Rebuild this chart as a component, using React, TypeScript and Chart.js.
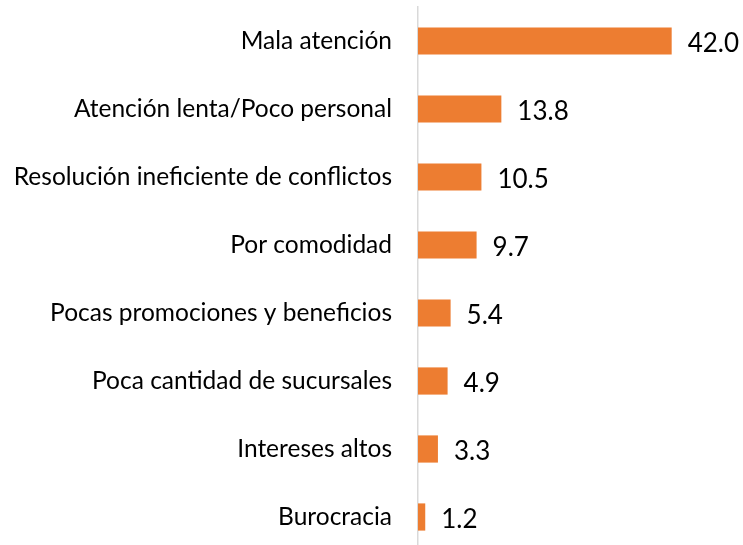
import React, { useEffect, useRef } from "react";
import { Chart, registerables } from "chart.js";

Chart.register(...registerables);

const categories = [
  "Mala atención",
  "Atención lenta/Poco personal",
  "Resolución ineficiente de conflictos",
  "Por comodidad",
  "Pocas promociones y beneficios",
  "Poca cantidad de sucursales",
  "Intereses altos",
  "Burocracia",
];
const values = [42.0, 13.8, 10.5, 9.7, 5.4, 4.9, 3.3, 1.2];
const barColor = "#ED7D31";
const fontFamily = "Lato, 'Liberation Sans', sans-serif";

const valueLabels = {
  id: "valueLabels",
  afterDatasetsDraw(chart: any) {
    const ctx = chart.ctx;
    const meta = chart.getDatasetMeta(0);
    ctx.save();
    ctx.font = `26px ${fontFamily}`;
    ctx.fillStyle = "#000000";
    ctx.textAlign = "left";
    ctx.textBaseline = "middle";
    meta.data.forEach((bar: any, i: number) => {
      ctx.fillText(values[i].toFixed(1), bar.x + 16, bar.y + 3);
    });
    ctx.restore();
  },
};

export default function App() {
  const ref = useRef<HTMLCanvasElement>(null);
  useEffect(() => {
    if (!ref.current) return;
    const chart = new Chart(ref.current, {
      type: "bar",
      data: {
        labels: categories,
        datasets: [
          {
            data: values,
            backgroundColor: barColor,
            borderWidth: 0,
            barPercentage: 0.8,
            categoryPercentage: 0.5,
          },
        ],
      },
      options: {
        indexAxis: "y",
        animation: false,
        responsive: false,
        maintainAspectRatio: false,
        layout: { padding: { top: 7, right: 23, bottom: 0, left: 0 } },
        plugins: { legend: { display: false }, tooltip: { enabled: false } },
        scales: {
          x: {
            min: 0,
            max: 50,
            display: false,
          },
          y: {
            grid: { display: false, drawTicks: false },
            border: { display: true, color: "#D9D9D9", width: 1.5 },
            ticks: {
              color: "#000000",
              padding: 26,
              font: { family: fontFamily, size: 24.5 },
            },
            afterFit: (scale: any) => {
              scale.width = 418;
              scale.paddingTop = 0;
              scale.paddingBottom = 0;
            },
          },
        },
      },
      plugins: [valueLabels],
    });
    return () => chart.destroy();
  }, []);
  return (
    <div style={{ position: "fixed", top: 0, left: 0, width: 743, height: 551, background: "#fff" }}>
      <canvas ref={ref} width={743} height={551} style={{ display: "block" }} />
    </div>
  );
}
